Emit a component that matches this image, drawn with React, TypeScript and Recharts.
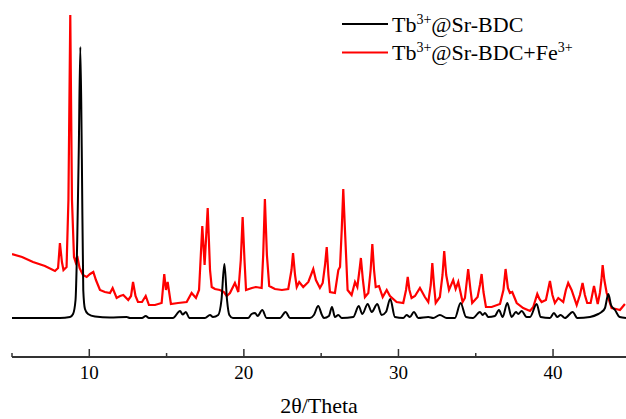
import { LineChart, Line, XAxis, YAxis, Label } from 'recharts';

const FONT = "'Liberation Serif', 'Times New Roman', serif";

const redTheta = [
  5.0, 5.65, 6.36, 7.13, 7.78, 7.98, 8.1, 8.23, 8.33, 8.53,
  8.65, 8.77, 8.88, 9.01, 9.11, 9.22, 9.37, 9.59, 9.83, 10.05,
  10.26, 10.43, 10.69, 11.01, 11.34, 11.51, 11.77, 11.99, 12.2, 12.52,
  12.7, 12.83, 12.99, 13.15, 13.41, 13.65, 13.86, 14.25, 14.68, 14.85,
  14.96, 15.07, 15.28, 15.74, 16.3, 16.62, 16.9, 17.1, 17.31, 17.46,
  17.66, 17.81, 17.92, 18.13, 18.45, 18.71, 18.89, 19.1, 19.42, 19.64,
  19.8, 19.92, 20.04, 20.14, 20.52, 20.78, 21.15, 21.25, 21.36, 21.49,
  21.64, 22.01, 22.46, 22.87, 23.08, 23.18, 23.31, 23.42, 23.58, 23.84,
  24.17, 24.49, 24.66, 24.92, 25.1, 25.25, 25.36, 25.47, 25.57, 25.89,
  26.11, 26.22, 26.33, 26.43, 26.54, 26.71, 26.97, 27.19, 27.34, 27.48,
  27.57, 27.7, 27.83, 28.05, 28.2, 28.31, 28.42, 28.53, 28.74, 28.98,
  29.24, 29.45, 29.88, 30.31, 30.49, 30.6, 30.71, 30.85, 31.07, 31.39,
  31.71, 31.93, 32.09, 32.19, 32.3, 32.41, 32.68, 32.85, 32.96, 33.09,
  33.27, 33.54, 33.7, 33.87, 34.15, 34.3, 34.51, 34.66, 34.77, 35.12,
  35.27, 35.38, 35.5, 35.66, 36.03, 36.57, 36.79, 36.93, 37.08, 37.21,
  37.36, 37.65, 38.07, 38.51, 38.72, 38.98, 39.12, 39.26, 39.54, 39.8,
  39.96, 40.12, 40.34, 40.66, 40.83, 40.98, 41.2, 41.53, 41.74, 41.91,
  42.06, 42.21, 42.43, 42.65, 42.89, 43.03, 43.13, 43.21, 43.32, 43.47,
  43.79, 44.07, 44.33, 44.65,
];
const redIntensity = [
  103, 100, 95, 91, 86, 89, 114, 95, 87, 90,
  157, 342, 157, 100, 95, 101, 89, 82, 80, 83,
  85, 77, 67, 65, 64, 69, 59, 61, 62, 57,
  61, 75, 61, 55, 55, 61, 52, 52, 54, 83,
  67, 75, 53, 54, 55, 64, 59, 67, 131, 92,
  149, 87, 70, 68, 67, 65, 61, 64, 74, 65,
  97, 140, 97, 67, 69, 70, 69, 102, 158, 102,
  71, 68, 67, 68, 87, 104, 82, 70, 75, 70,
  75, 88, 77, 69, 74, 92, 110, 82, 65, 64,
  87, 90, 127, 168, 127, 67, 62, 75, 70, 87,
  99, 77, 60, 64, 87, 113, 87, 70, 71, 60,
  67, 61, 55, 54, 67, 80, 67, 59, 61, 69,
  60, 55, 72, 94, 72, 54, 60, 82, 106, 82,
  67, 77, 68, 75, 55, 59, 88, 67, 54, 60,
  72, 83, 65, 50, 50, 53, 67, 88, 69, 64,
  65, 54, 49, 46, 50, 63, 58, 55, 57, 76,
  62, 54, 59, 55, 67, 74, 67, 52, 62, 74,
  62, 54, 54, 71, 53, 64, 77, 92, 77, 64,
  49, 48, 47, 53,
];

const blackTheta = [
  5.0, 8.1, 8.75, 8.95, 9.11, 9.22, 9.32, 9.42, 9.52, 9.61,
  9.72, 9.92, 10.37, 11.34, 12.42, 12.63, 13.41, 13.65, 13.86, 15.41,
  15.87, 16.04, 16.25, 16.47, 17.48, 17.81, 18.0, 18.34, 18.55, 18.74,
  18.91, 19.06, 19.29, 20.27, 20.5, 20.72, 20.89, 21.19, 21.47, 22.33,
  22.7, 22.98, 24.27, 24.53, 24.81, 25.05, 25.18, 25.5, 25.7, 25.89,
  26.11, 26.33, 27.08, 27.43, 27.66, 28.01, 28.27, 28.63, 28.91, 29.19,
  29.47, 29.77, 30.31, 30.53, 30.74, 31.0, 31.28, 31.93, 32.25, 32.68,
  33.12, 33.65, 34.02, 34.37, 34.82, 35.27, 35.45, 35.6, 35.81, 36.24,
  36.5, 36.74, 37.04, 37.32, 37.6, 37.75, 37.97, 38.29, 38.51, 38.94,
  39.2, 39.8, 40.06, 40.27, 40.49, 40.77, 41.27, 41.57, 42.39, 42.93,
  43.14, 43.36, 43.58, 43.75, 44.01, 44.31, 44.72,
];
const blackIntensity = [
  39, 39, 40, 43, 57, 117, 207, 310, 197, 67,
  48, 43, 40.5, 39.5, 40, 39, 39, 41, 39, 39,
  46, 42.5, 45, 39, 39, 42, 40, 42, 57, 93,
  57, 42, 39, 39, 43, 44, 41, 47, 39, 39,
  45, 39, 39, 42, 51, 42, 39, 41, 50, 40,
  42, 39, 40, 51, 43, 53, 45, 53, 42, 45,
  58, 40, 39, 42, 40, 45, 39, 40, 39, 42,
  39, 39, 54, 40, 39, 45, 42, 44, 40, 41,
  47, 40, 54, 40, 45, 43, 46, 40, 40, 53,
  40, 39, 44, 40, 42, 39, 45, 39, 40, 43,
  45, 49, 63, 52, 47, 40, 39,
];

const xTicks = [5, 10, 15, 20, 25, 30, 35, 40];

const redData = redTheta.map((t, i) => ({ theta: t, intensity: redIntensity[i] }));
const blackData = blackTheta.map((t, i) => ({ theta: t, intensity: blackIntensity[i] }));

const AxisTick = (props: any) => {
  const { x, y, payload } = props;
  const major = payload.value % 10 === 0;
  return (
    <g>
      <line x1={x} x2={x} y1={y} y2={y - (major ? 8 : 4)} stroke="#333" strokeWidth={1.5} />
      {major && (
        <text
          x={x}
          y={y + 22}
          textAnchor="middle"
          style={{ fontFamily: FONT, fontSize: 19, fill: '#000' }}
        >
          {payload.value}
        </text>
      )}
    </g>
  );
};

export default function App() {
  return (
    <div style={{ position: 'absolute', left: 0, top: 0, width: 626, height: 419, background: '#fff' }}>
      <LineChart width={626} height={419} margin={{ top: 0, right: 0, bottom: 0, left: 12 }}>
        <XAxis
          type="number"
          dataKey="theta"
          domain={[5, 44.72]}
          allowDataOverflow
          ticks={xTicks}
          interval={0}
          height={62}
          tickSize={0}
          tickMargin={0}
          tickLine={false}
          tick={AxisTick}
          axisLine={{ stroke: '#333', strokeWidth: 2 }}
        >
          <Label
            value="2θ/Theta"
            position="insideBottom"
            offset={6}
            style={{ fontFamily: FONT, fontSize: 22, fill: '#000' }}
          />
        </XAxis>
        <YAxis hide type="number" domain={[0, 357]} allowDataOverflow />
        <Line
          data={redData}
          dataKey="intensity"
          type="linear"
          stroke="#ff0000"
          strokeWidth={2.2}
          dot={false}
          isAnimationActive={false}
        />
        <Line
          data={blackData}
          dataKey="intensity"
          type="monotone"
          stroke="#000000"
          strokeWidth={2}
          dot={false}
          isAnimationActive={false}
        />
      </LineChart>
      <svg
        width={296}
        height={70}
        style={{ position: 'absolute', left: 330, top: 0, fontFamily: FONT, fontSize: 22 }}
      >
        <line x1={12} x2={58} y1={24} y2={24} stroke="#000" strokeWidth={2} />
        <text x={62} y={31.5} fill="#000">
          Tb<tspan dy={-8} fontSize={14}>3+</tspan>
          <tspan dy={8}>@Sr-BDC</tspan>
        </text>
        <line x1={12} x2={58} y1={52.5} y2={52.5} stroke="#ff0000" strokeWidth={2} />
        <text x={62} y={59.5} fill="#000">
          Tb<tspan dy={-8} fontSize={14}>3+</tspan>
          <tspan dy={8}>@Sr-BDC+Fe</tspan>
          <tspan dy={-8} fontSize={14}>3+</tspan>
        </text>
      </svg>
    </div>
  );
}
